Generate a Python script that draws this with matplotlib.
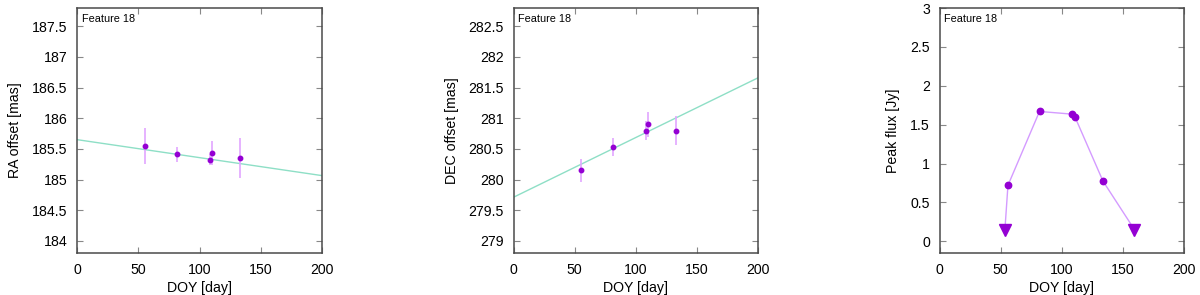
import matplotlib
matplotlib.use("Agg")
import matplotlib.pyplot as plt
import numpy as np

plt.rcParams["font.family"] = ["Liberation Sans", "DejaVu Sans"]

# RA offsets [mas]
ra_doy = [55.5, 81.3, 108.3, 110.2, 133.1]
ra_val = [185.55, 185.41, 185.32, 185.43, 185.35]
ra_err = [0.29, 0.12, 0.09, 0.20, 0.32]
ra_fit = (185.65, -0.00293)

# DEC offsets [mas]
dec_doy = [55.5, 81.3, 108.3, 110.2, 133.1]
dec_val = [280.15, 280.53, 280.80, 280.90, 280.80]
dec_err = [0.19, 0.14, 0.15, 0.20, 0.24]
dec_fit = (279.71, 0.00975)

# peak flux [Jy]
flux_doy = [56.0, 81.8, 108.7, 110.8, 133.7]
flux_val = [0.72, 1.67, 1.635, 1.60, 0.775]
flux_err = [0.02, 0.02, 0.03, 0.03, 0.04]
limit_doy = [53.5, 159.5]
limit_val = [0.15, 0.15]

POINT = "#9400D3"
ERRBAR = "#E2A6FF"
FIT = "#8EDFC6"
FLUXLINE = "#D49BFF"
FRAME = "#4a4a4a"

fig = plt.figure(figsize=(12.0, 2.95), dpi=100)
lefts = [77.3 / 1200, 513.5 / 1200, 939.5 / 1200]
width = 244.5 / 1200
bottom = 1 - 253 / 295
height = 245 / 295
axes = [fig.add_axes([l, bottom, width, height]) for l in lefts]


def style(ax, ylabel):
    for sp in ax.spines.values():
        sp.set_color(FRAME)
        sp.set_linewidth(1.1)
    ax.tick_params(direction="in", length=4, width=0.8, color="#888888",
                   top=True, right=True, labelsize=10.2, pad=7)
    ax.set_xlabel("DOY [day]", fontsize=10.2, labelpad=3)
    ax.set_ylabel(ylabel, fontsize=10.2, labelpad=7)
    ax.text(0.02, 0.975, "Feature 18", transform=ax.transAxes,
            fontsize=7.8, va="top", ha="left")


def fmt(v):
    return "{:g}".format(v)


xs = np.array([0.0, 200.0])

ax = axes[0]
ax.plot(xs, ra_fit[0] + ra_fit[1] * xs, color=FIT, lw=1.0, zorder=1)
ax.errorbar(ra_doy, ra_val, yerr=ra_err, fmt="o", ms=3.2, color=POINT,
            ecolor=ERRBAR, elinewidth=1.2, capsize=0, zorder=3)
ax.set_xlim(0, 200)
ax.set_ylim(183.8, 187.8)
ax.set_xticks(range(0, 201, 50))
yt = np.arange(184, 187.6, 0.5)
ax.set_yticks(yt)
ax.set_yticklabels([fmt(v) for v in yt])
style(ax, "RA offset [mas]")

ax = axes[1]
ax.plot(xs, dec_fit[0] + dec_fit[1] * xs, color=FIT, lw=1.0, zorder=1)
ax.errorbar(dec_doy, dec_val, yerr=dec_err, fmt="o", ms=3.2, color=POINT,
            ecolor=ERRBAR, elinewidth=1.2, capsize=0, zorder=3)
ax.set_xlim(0, 200)
ax.set_ylim(278.8, 282.8)
ax.set_xticks(range(0, 201, 50))
yt = np.arange(279, 282.6, 0.5)
ax.set_yticks(yt)
ax.set_yticklabels([fmt(v) for v in yt])
style(ax, "DEC offset [mas]")

ax = axes[2]
line_x = [limit_doy[0]] + flux_doy + [limit_doy[1]]
line_y = [limit_val[0]] + flux_val + [limit_val[1]]
ax.plot(line_x, line_y, color=FLUXLINE, lw=1.0, zorder=1)
ax.errorbar(flux_doy, flux_val, yerr=flux_err, fmt="o", ms=4.6, color=POINT,
            ecolor=ERRBAR, elinewidth=1.2, capsize=0, zorder=3)
ax.plot(limit_doy, limit_val, "v", ms=8.5, color=POINT, zorder=3)
ax.set_xlim(0, 200)
ax.set_ylim(-0.15, 3.0)
ax.set_xticks(range(0, 201, 50))
yt = np.arange(0, 3.01, 0.5)
ax.set_yticks(yt)
ax.set_yticklabels([fmt(v) for v in yt])
style(ax, "Peak flux [Jy]")

fig.savefig("out.png", dpi=100)
